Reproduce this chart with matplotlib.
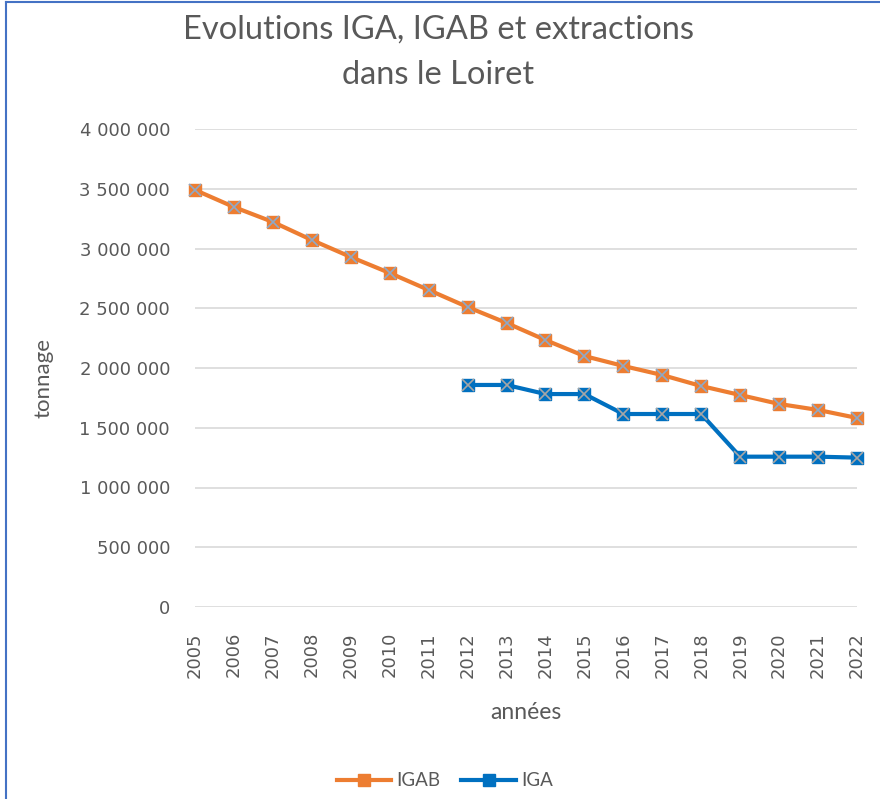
import matplotlib.pyplot as plt
from matplotlib.lines import Line2D

plt.rcParams['font.family'] = ['Lato', 'DejaVu Sans']

years = list(range(2005, 2023))
igab = [3490000, 3347000, 3222000, 3071000, 2929000, 2795000, 2653000, 2510000,
        2377000, 2234000, 2100000, 2017000, 1941000, 1849000, 1774000, 1699000,
        1649000, 1582000]
iga_years = list(range(2012, 2023))
iga = [1858000, 1858000, 1782000, 1782000, 1615000, 1615000, 1615000,
       1258000, 1258000, 1258000, 1250000]

orange = "#ed7d31"
blue = "#0070c0"
txt = "#595959"

fig = plt.figure(figsize=(8.8, 7.99), dpi=100)
ax = fig.add_axes([195 / 880, 1 - 607 / 799, 662 / 880, 478 / 799])

ax.plot(years, igab, color=orange, lw=3, marker="s", ms=9, mfc=orange, mec=orange,
        clip_on=False, zorder=3)
ax.plot(years, igab, ls="none", marker="x", ms=9, mew=1.2, color="#8ea9c8",
        clip_on=False, zorder=4)
ax.plot(iga_years, iga, color=blue, lw=3, marker="s", ms=9, mfc=blue, mec=blue,
        clip_on=False, zorder=3)
ax.plot(iga_years, iga, ls="none", marker="x", ms=9, mew=1.2, color="#a6a6a6",
        clip_on=False, zorder=4)

ax.set_xlim(2005, 2022)
ax.set_ylim(0, 4000000)
yt = list(range(0, 4000001, 500000))
ax.set_yticks(yt)
ax.set_yticklabels([f"{v:,}".replace(",", " ") for v in yt],
                   fontsize=13, color=txt, family="DejaVu Sans")
ax.set_xticks(years)
ax.set_xticklabels([str(y) for y in years], rotation=90, fontsize=13, color=txt,
                   family="DejaVu Sans")
ax.tick_params(length=0, pad=18, axis="y")
ax.tick_params(length=0, pad=18, axis="x")
ax.grid(axis="y", color="#d9d9d9", lw=1.2)
ax.set_axisbelow(True)
for s in ax.spines.values():
    s.set_visible(False)

ax.set_ylabel("tonnage", fontsize=16, color=txt)
ax.yaxis.set_label_coords(-0.213, 0.48)
ax.set_xlabel("années", fontsize=16.5, color=txt, va="center")
ax.xaxis.set_label_coords(0.5, -0.22)

fig.text(438 / 880, 1 - 30 / 799, "Evolutions IGA, IGAB et extractions",
         ha="center", va="center", fontsize=23.5, color=txt)
fig.text(438 / 880, 1 - 75 / 799, "dans le Loiret",
         ha="center", va="center", fontsize=23.5, color=txt)

handles = [
    Line2D([], [], color=orange, lw=3, marker="s", ms=9, mfc=orange, mec=orange),
    Line2D([], [], color=blue, lw=3, marker="s", ms=9, mfc=blue, mec=blue),
]
fig.legend(handles, ["IGAB", "IGA"], loc="center", bbox_to_anchor=(445 / 880, 1 - 781 / 799),
           ncol=2, frameon=False, fontsize=13.5, labelcolor=txt, handlelength=2.9,
           columnspacing=1.1, handletextpad=0.3)

fig.add_artist(Line2D([6 / 880, 6 / 880], [0, 1 - 2 / 799], color="#4472c4", lw=1.5))
fig.add_artist(Line2D([6 / 880, 1], [1 - 2 / 799, 1 - 2 / 799], color="#4472c4", lw=1.5))

fig.savefig("out.png", dpi=100)
